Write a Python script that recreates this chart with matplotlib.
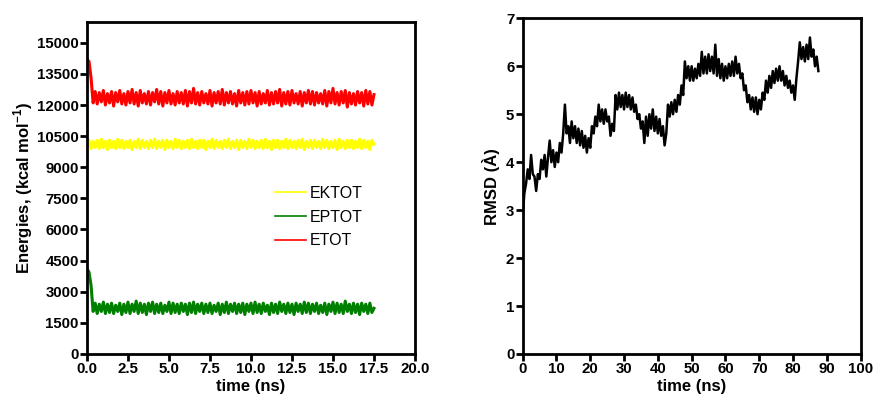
import numpy as np
import matplotlib
matplotlib.use("Agg")
import matplotlib.pyplot as plt

plt.rcParams['font.family'] = ['Liberation Sans', 'DejaVu Sans']
plt.rcParams['mathtext.fontset'] = 'custom'
plt.rcParams['mathtext.rm'] = 'Liberation Sans:bold'
plt.rcParams['mathtext.bf'] = 'Liberation Sans:bold'

etot = [
    14200, 14100, 13300, 12100, 12650, 12050, 12600, 12150, 12700, 12000,
    12550, 12100, 12650, 11950, 12600, 12150, 12700, 12050, 12550, 12000,
    12650, 12100, 12750, 12050, 12600, 11950, 12700, 12100, 12550, 12050,
    12650, 12000, 12600, 12150, 12750, 12050, 12650, 11950, 12600, 12100,
    12700, 12050, 12550, 12000, 12650, 12100, 12600, 12050, 12700, 11950,
    12650, 12100, 12800, 12050, 12600, 12000, 12650, 12100, 12550, 12050,
    12700, 11950, 12600, 12100, 12650, 12050, 12750, 12000, 12600, 12100,
    12650, 12050, 12550, 11950, 12700, 12100, 12600, 12000, 12650, 12050,
    12700, 12100, 12600, 11950, 12650, 12050, 12550, 12100, 12700, 12000,
    12600, 12050, 12650, 12100, 12750, 11950, 12600, 12050, 12650, 12000,
    12700, 12100, 12550, 12050, 12650, 11950, 12600, 12100, 12700, 12050,
    12650, 12000, 12600, 12100, 12550, 12050, 12700, 11950, 12650, 12100,
    12800, 12050, 12600, 12000, 12650, 12100, 12700, 11900, 12600, 12050,
    12550, 12000, 12650, 12100, 12600, 11950, 12700, 12050, 12650, 12000,
    12500,
]
ektot = [
    10100, 10300, 9900, 10250, 9950, 10300, 9900, 10350, 9950, 10250,
    9850, 10300, 9950, 10250, 9900, 10350, 9950, 10300, 9900, 10250,
    9950, 10300, 9850, 10250, 9950, 10350, 9900, 10300, 9950, 10250,
    9900, 10300, 9950, 10350, 9900, 10250, 9950, 10300, 9850, 10300,
    9950, 10250, 9900, 10350, 9950, 10300, 9900, 10250, 9950, 10300,
    9900, 10350, 9950, 10250, 9900, 10300, 9950, 10300, 9850, 10250,
    9950, 10350, 9900, 10300, 9950, 10250, 9900, 10300, 9950, 10350,
    9900, 10250, 9950, 10300, 9850, 10300, 9950, 10250, 9900, 10350,
    9950, 10300, 9900, 10250, 9950, 10300, 9900, 10350, 9950, 10250,
    9850, 10300, 9950, 10300, 9900, 10250, 9950, 10350, 9900, 10300,
    9950, 10250, 9900, 10300, 9950, 10350, 9850, 10250, 9950, 10300,
    9900, 10300, 9950, 10250, 9900, 10350, 9950, 10300, 9900, 10250,
    9950, 10300, 9850, 10350, 9950, 10250, 9900, 10300, 9950, 10300,
    9900, 10250, 9950, 10350, 9900, 10300, 9950, 10250, 9850, 10300,
    10100,
]
eptot = [
    4100, 3950, 3300, 2050, 2450, 1950, 2400, 2050, 2500, 1950,
    2400, 2000, 2450, 1950, 2350, 2050, 2450, 1900, 2400, 2000,
    2500, 1950, 2400, 2050, 2550, 1950, 2450, 2000, 2400, 1900,
    2450, 2050, 2500, 1950, 2400, 2000, 2450, 1950, 2350, 2050,
    2500, 1950, 2450, 2000, 2400, 1950, 2450, 2050, 2400, 1900,
    2450, 2000, 2500, 1950, 2400, 2050, 2450, 1950, 2400, 2000,
    2450, 1950, 2350, 2050, 2450, 1900, 2400, 2000, 2500, 1950,
    2400, 2050, 2450, 1950, 2400, 2000, 2450, 1900, 2400, 2050,
    2450, 1950, 2500, 2000, 2400, 1950, 2450, 2050, 2350, 1900,
    2450, 2000, 2400, 1950, 2500, 2050, 2400, 1950, 2450, 2000,
    2400, 1900, 2450, 2050, 2400, 1950, 2500, 2000, 2450, 1950,
    2400, 2050, 2450, 1950, 2350, 2000, 2450, 1900, 2400, 2050,
    2500, 1950, 2450, 2000, 2400, 1950, 2550, 2050, 2400, 1950,
    2450, 2000, 2400, 1900, 2450, 2050, 2400, 1950, 2450, 2000,
    2200,
]
t_energy = np.linspace(0, 17.5, len(etot))

# RMSD, sampled every 0.5 ns from 0 to 87.5 ns
rmsd = [
    2.85, 3.35, 3.55, 3.85, 3.65, 4.15, 3.75, 3.7, 3.4, 3.75,
    3.65, 4.05, 3.85, 4.15, 3.7, 4.1, 4.45, 4.0, 4.25, 3.9,
    4.2, 4.0, 4.4, 4.2, 4.6, 5.2, 4.6, 4.75, 4.4, 4.85,
    4.5, 4.75, 4.4, 4.7, 4.35, 4.65, 4.3, 4.55, 4.2, 4.5,
    4.3, 4.75, 4.6, 4.95, 4.75, 5.2, 4.85, 5.1, 4.8, 5.1,
    4.85, 4.95, 4.55, 4.8, 4.65, 5.4, 5.1, 5.45, 5.15, 5.4,
    5.1, 5.45, 5.15, 5.4, 5.1, 5.35, 5.05, 5.2, 4.9, 5.0,
    4.7, 4.85, 4.4, 4.95, 4.55, 5.0, 4.7, 5.1, 4.65, 4.95,
    4.6, 4.9, 4.55, 4.75, 4.35, 4.6, 5.2, 4.95, 5.25, 5.0,
    5.3, 5.05, 5.4, 5.2, 5.6, 5.4, 6.1, 5.75, 6.0, 5.7,
    6.0, 5.7, 5.95, 5.75, 6.05, 5.8, 6.3, 5.85, 6.2, 5.85,
    6.25, 5.9, 6.2, 5.85, 6.45, 5.8, 6.15, 5.75, 6.05, 5.7,
    6.0, 5.75, 6.05, 5.8, 6.1, 5.8, 6.2, 5.85, 6.05, 5.75,
    5.85, 5.5, 5.6, 5.25, 5.4, 5.1, 5.35, 5.05, 5.35, 5.0,
    5.3, 5.1, 5.45, 5.3, 5.7, 5.45, 5.8, 5.55, 5.9, 5.65,
    5.95, 5.7, 6.0, 5.7, 5.9, 5.6, 5.8, 5.55, 5.7, 5.45,
    5.6, 5.3, 5.75, 6.1, 6.5, 6.15, 6.4, 6.1, 6.45, 6.15,
    6.6, 6.2, 6.35, 6.0, 6.2, 5.9,
]
t_rmsd = np.linspace(0, 87.5, len(rmsd))


def style_axes(ax):
    for s in ax.spines.values():
        s.set_linewidth(2)
    ax.tick_params(direction='out', length=5, width=2, labelsize=10.8, pad=1)
    for lab in ax.get_xticklabels() + ax.get_yticklabels():
        lab.set_fontweight('bold')


fig = plt.figure(figsize=(8.74, 4.04), dpi=100)

# energies panel
ax1 = fig.add_axes([0.0995, 0.1238, 0.3753, 0.8217])
ax1.plot(t_energy, ektot, color='#ffff00', lw=2.2, label='EKTOT')
ax1.plot(t_energy, eptot, color='#008000', lw=2.2, label='EPTOT')
ax1.plot(t_energy, etot, color='#ff0000', lw=2.2, label='ETOT')
ax1.set_xlim(0, 20)
ax1.set_ylim(0, 16000)
ax1.set_xticks(np.arange(0, 20.1, 2.5))
ax1.set_xticklabels([f'{v:.1f}' for v in np.arange(0, 20.1, 2.5)])
ax1.set_yticks(np.arange(0, 15001, 1500))
ax1.set_xlabel('time (ns)', fontsize=12, fontweight='bold', labelpad=2)
ax1.set_ylabel(r'Energies, (kcal mol$^{-1}$)', fontsize=12, fontweight='bold', labelpad=1)
style_axes(ax1)
leg = ax1.legend(loc='upper left', bbox_to_anchor=(0.53, 0.55), frameon=False,
                 fontsize=11.5, handlelength=1.9, handletextpad=0.25, labelspacing=0.55)
for h in leg.get_lines():
    h.set_linewidth(1.2)

# RMSD panel
ax2 = fig.add_axes([0.598, 0.1238, 0.3867, 0.8309])
ax2.plot(t_rmsd, rmsd, color='black', lw=1.8)
ax2.set_xlim(0, 100)
ax2.set_ylim(0, 7)
ax2.set_xticks(np.arange(0, 101, 10))
ax2.set_yticks(np.arange(0, 8, 1))
ax2.set_xlabel('time (ns)', fontsize=12, fontweight='bold', labelpad=2)
ax2.set_ylabel('RMSD (À)', fontsize=12, fontweight='bold', labelpad=4)
style_axes(ax2)

fig.savefig('out.png', dpi=100)
